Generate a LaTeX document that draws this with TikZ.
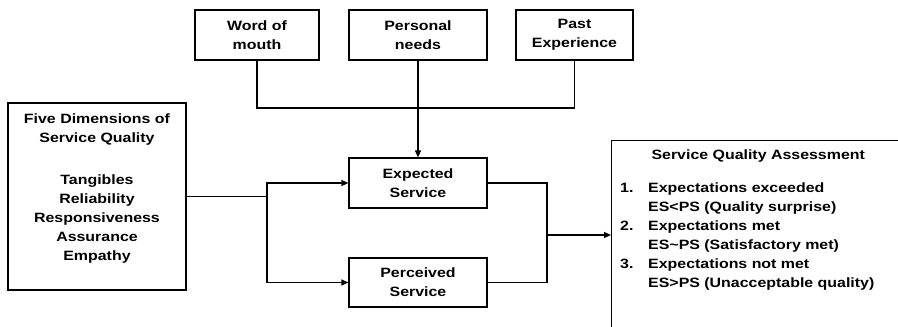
\documentclass[tikz,border=0pt]{standalone}
\usepackage{fontspec}
\setmainfont{Liberation Sans}[FakeStretch=1.18]
\usepackage{tikz}
\usetikzlibrary{arrows.meta}

\begin{document}
\begin{tikzpicture}[x=1pt, y=-1pt,
		box/.style={draw, line width=1.2pt, align=center, inner sep=0pt},
		link/.style={line width=1.2pt},
		arr/.style={line width=1.2pt, -{Triangle[length=7pt, width=6pt]}},
		every node/.style={font=\fontsize{13.5}{19}\selectfont\bfseries}]
		%%%%% START %%%%%
		
		\useasboundingbox (0, 0) rectangle (898, 327);
		
		\node[box, minimum width=124, minimum height=50] (wom) at (257, 35) {Word of\\mouth};
		\node[box, minimum width=138, minimum height=50] (pn) at (418, 35) {Personal\\needs};
		\node[box, minimum width=117, minimum height=50] (pe) at (574.5, 35) {Past\\Experience};
		
		\node[box, minimum width=178, minimum height=187] (fd) at (97, 196.5) {};
		\node[align=center] (fdtext) at (fd.center) [yshift=8] {Five Dimensions of\\Service Quality\\[23pt]Tangibles\\Reliability\\Responsiveness\\Assurance\\Empathy};
		
		\node[box, minimum width=138, minimum height=50] (exp) at (418, 183) {Expected\\Service};
		\node[box, minimum width=138, minimum height=49] (per) at (418, 282.5) {Perceived\\Service};
		
		% assessment box runs off the page at the right and bottom
		\node[box, anchor=north west, minimum width=320, minimum height=220] (sqa) at (611, 140) {};
		\node[anchor=base west] (sqatitle) at (648, 159) {Service Quality Assessment};
		\node[anchor=north west, align=left, inner sep=0pt] (sqalist) at (620, 183) {%
			1.\\\phantom{x}\\2.\\\phantom{x}\\3.};
		\node[anchor=north west, align=left, inner sep=0pt] (sqatext) at (648, 183) {%
			Expectations exceeded\\ES<PS (Quality surprise)\\Expectations met\\ES\textasciitilde PS (Satisfactory met)\\Expectations not met\\ES>PS (Unacceptable quality)};
		
		\coordinate (join) at (418, 108);
		\draw[link] (wom.south) |- (join) -| (pe.south);
		\draw[arr] (pn.south) -- (exp.north);
		
		\coordinate (fork) at (267, 196.5);
		\draw[link] (fd.east) -- (fork);
		\draw[arr] (fork) |- (exp.west);
		\draw[arr] (fork) |- (per.west);
		
		\coordinate (merge) at (547, 235);
		\draw[link] (exp.east) -| (merge);
		\draw[link] (per.east) -| (merge);
		\draw[arr] (merge) -- (merge -| sqa.west);
		
		%%%%% END %%%%%
	\end{tikzpicture}
\end{document}
